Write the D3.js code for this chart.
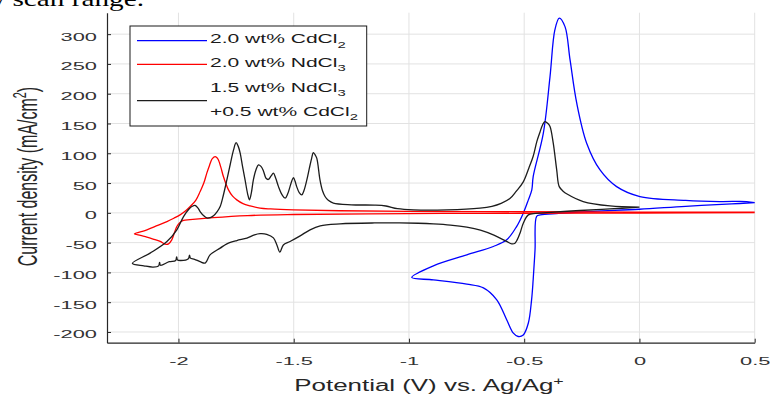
<!DOCTYPE html>
<html>
<head>
<meta charset="utf-8">
<script src="https://cdn.jsdelivr.net/npm/d3@7"></script>
<style>
  body { margin: 0; background: #fff; }
  svg text { font-family: "Liberation Sans", Arial, Helvetica, sans-serif; fill: #262626; }
</style>
</head>
<body>
<div id="chart"></div>
<script>
// 2.0 wt% CdCl2 (blue) - potential (V) and current density (mA/cm2)
const cdV = [0.5, 0.4, 0.2, 0.0, -0.2, -0.35, -0.43, -0.446, -0.453, -0.461, -0.468, -0.482, -0.504, -0.526, -0.547,
  -0.576, -0.619, -0.677, -0.749, -0.894, -0.988, -0.894, -0.749, -0.634, -0.576, -0.533, -0.504, -0.482, -0.467,
  -0.461, -0.417, -0.388, -0.367, -0.348, -0.323, -0.301, -0.272, -0.229, -0.171, -0.099, 0.002, 0.2, 0.349, 0.465, 0.5];
const cdI = [17, 15, 11, 6, 2.5, -1, -3.5, -6, -62, -112, -146, -185, -205, -207.6, -202,
  -179.5, -146, -126, -119.6, -112.4, -108.5, -88.9, -70.5, -56.5, -45.3, -23, -0.5, 21.8, 38.6,
  60.9, 133.7, 228.7, 307, 327, 312.6, 256.7, 184, 117, 72, 44, 27.4, 21, 19, 19, 17];

// 2.0 wt% NdCl3 (red)
const ndV = [0.5, 0.0, -0.5, -1.0, -1.5, -1.7, -1.85, -1.95, -1.978, -1.993, -2.007, -2.018, -2.029, -2.043, -2.058,
  -2.079, -2.11, -2.137, -2.165, -2.191, -2.165, -2.137, -2.09, -2.05, -2.02, -1.993, -1.97, -1.949, -1.925, -1.906,
  -1.89, -1.877, -1.865, -1.855, -1.848, -1.841, -1.834, -1.827, -1.815, -1.805, -1.783, -1.765, -1.747, -1.72,
  -1.689, -1.646, -1.6, -1.5, -1.3, -1.0, -0.5, 0.0, 0.5];
const ndI = [0.5, -0.3, -0.8, -1.2, -2.8, -4.5, -8, -11.5, -12.8, -16, -23, -34, -45.3, -52, -52.6,
  -48, -44, -40.8, -38, -35.2, -32, -28.5, -21, -14.6, -9, -3.4, 3, 10.6, 21, 35.7,
  50, 66.6, 80, 90, 93, 94.5, 93, 89, 75, 61, 38.6, 28, 21.8, 15.5,
  11.7, 7.9, 6.5, 5, 3.5, 2.5, 1.8, 1.2, 1.0];

// 1.5 wt% NdCl3 + 0.5 wt% CdCl2 (black)
const mixV = [0.0, -0.128, -0.258, -0.402, -0.45, -0.482, -0.504, -0.518, -0.53, -0.54, -0.554, -0.576, -0.634, -0.69,
  -0.749, -0.82, -0.894, -0.96, -1.04, -1.15, -1.299, -1.385, -1.429, -1.472, -1.516, -1.545, -1.56, -1.573, -1.588,
  -1.617, -1.646, -1.67, -1.703, -1.747, -1.79, -1.819, -1.863, -1.884, -1.906, -1.93, -1.948, -1.952, -1.957, -1.99,
  -2.004, -2.008, -2.012, -2.04, -2.078, -2.082, -2.086, -2.11, -2.15, -2.2,
  -2.123, -2.05, -2.007, -1.978, -1.955, -1.94, -1.928, -1.915, -1.906, -1.89, -1.877, -1.862, -1.848, -1.832, -1.819,
  -1.805, -1.79, -1.775, -1.761, -1.75, -1.741, -1.732, -1.722, -1.711, -1.7, -1.692, -1.684, -1.675, -1.664, -1.653,
  -1.642, -1.631, -1.62, -1.61, -1.598, -1.588, -1.578, -1.566, -1.55, -1.537, -1.526, -1.516, -1.508, -1.501, -1.494,
  -1.487, -1.476, -1.465, -1.455, -1.443, -1.432, -1.422, -1.415, -1.408, -1.4, -1.386, -1.375, -1.364, -1.35, -1.328,
  -1.25, -1.15, -1.1, -1.05, -0.98, -0.836, -0.692, -0.64, -0.6, -0.562, -0.535, -0.504, -0.48, -0.461, -0.445, -0.432,
  -0.42, -0.41, -0.397, -0.388, -0.374, -0.359, -0.348, -0.33, -0.316, -0.244, -0.128, 0.0];
const mixI = [9.6, 6.5, 3.9, 0.5, -1, -3.4, -17.3, -34, -45, -50.9, -52, -48, -37, -29,
  -24, -20.5, -18.5, -17.5, -17, -17, -18.5, -21.8, -28.5, -38.6, -48.1, -54, -66, -54, -42,
  -36, -35, -37, -42.5, -46.5, -52, -59.2, -70.5, -84.4, -82, -78, -76, -71, -77, -80,
  -79, -74, -80, -82, -88, -83, -89, -91, -89, -85,
  -67.6, -48.1, -28.5, -6.2, 6, 11, 12.5, 8, 2.2, -5, -8.5, -8, -5, 2, 10.6,
  30, 55.4, 82, 105.7, 118, 112, 100, 78, 55.4, 32, 21.8, 33, 55.4, 72, 80.5,
  78, 70, 58, 56, 62, 66.6, 58, 44, 30, 24.6, 32, 44, 54, 59.2, 53,
  44, 34, 30.2, 38, 55.4, 75, 91.8, 101.2, 98, 91.8, 55.4, 37, 27.4, 21, 16.3,
  13.5, 13, 11.5, 7, 5, 5, 7.9, 11, 16, 24, 36, 52, 75, 95, 120, 135,
  148, 153.2, 150, 145, 117, 72.2, 44, 36, 32, 19, 11.7, 9.6];

const seriesNames = [["2.0 wt% CdCl", "2"], ["2.0 wt% NdCl", "3"], ["1.5 wt% NdCl", "3"], ["+0.5 wt% CdCl", "2"]];
const seriesColors = ["#0000ff", "#ff0000", "#1c1c1c"];
const xTicks = [-2, -1.5, -1, -0.5, 0, 0.5];
const yTicks = [-200, -150, -100, -50, 0, 50, 100, 150, 200, 250, 300];

const width = 770, height = 394;
const margin = { top: 12.7, right: 15.3, bottom: 51.3, left: 107 };

const svg = d3.select("#chart").append("svg")
    .attr("width", width)
    .attr("height", height);

const x = d3.scaleLinear().domain([-2.31, 0.5]).range([margin.left, width - margin.right]);
const y = d3.scaleLinear().domain([-218, 336]).range([height - margin.bottom, margin.top]);

// clipped text from the surrounding page
svg.append("text")
    .attr("x", -16).attr("y", 6)
    .attr("textLength", 160)
    .attr("lengthAdjust", "spacingAndGlyphs")
    .style("font-family", "'Liberation Serif', 'Times New Roman', serif")
    .style("font-size", "22px")
    .style("fill", "#000")
    .text("w scan range.");

// grid
svg.append("g").selectAll("line")
  .data(xTicks)
  .join("line")
    .attr("x1", d => x(d)).attr("x2", d => x(d))
    .attr("y1", y.range()[1]).attr("y2", y.range()[0])
    .attr("stroke", "#e2e2e2");
svg.append("g").selectAll("line")
  .data(yTicks)
  .join("line")
    .attr("x1", x.range()[0]).attr("x2", x.range()[1])
    .attr("y1", d => y(d)).attr("y2", d => y(d))
    .attr("stroke", "#e2e2e2");

// axes
const yAxis = svg.append("g")
    .attr("transform", `translate(${margin.left},0)`)
    .call(d3.axisLeft(y).tickValues(yTicks).tickSize(-4).tickSizeOuter(0).tickFormat(d => String(d)));
const xAxis = svg.append("g")
    .attr("transform", `translate(0,${height - margin.bottom})`)
    .call(d3.axisBottom(x).tickValues(xTicks).tickSize(-4).tickSizeOuter(0).tickFormat(d => String(d)));

[yAxis, xAxis].forEach(a => {
  a.select(".domain").attr("stroke", "#262626").attr("stroke-width", 1.2);
  a.selectAll(".tick line").attr("stroke", "#262626");
  a.selectAll(".tick text").attr("x", null).attr("y", null).attr("dy", null)
    .style("font-size", "11.5px").style("fill", "#333");
});
yAxis.selectAll(".tick text").attr("transform", "translate(-10,6) scale(1.9,1)");
xAxis.selectAll(".tick text").attr("transform", "translate(0,22.5) scale(1.9,1)");

// curves
const line = d3.line()
    .x(d => x(d[0]))
    .y(d => y(d[1]))
    .curve(d3.curveCatmullRom.alpha(0.5));

const series = [d3.zip(cdV, cdI), d3.zip(ndV, ndI), d3.zip(mixV, mixI)];
svg.append("g").selectAll("path")
  .data(series)
  .join("path")
    .attr("d", line)
    .attr("fill", "none")
    .attr("stroke", (d, i) => seriesColors[i])
    .attr("stroke-width", 1.3)
    .attr("stroke-linejoin", "round");

// axis titles
const xt = svg.append("text")
    .attr("transform", "translate(429,391) scale(1.62,1)")
    .attr("text-anchor", "middle")
    .style("font-size", "16px");
xt.append("tspan").text("Potential (V) vs. Ag/Ag");
xt.append("tspan").attr("dy", -6).style("font-size", "11px").text("+");

const yt = svg.append("text")
    .attr("transform", "translate(36.5,176.5) scale(1.7,1) rotate(-90)")
    .attr("text-anchor", "middle")
    .style("font-size", "16px");
yt.append("tspan").text("Current density (mA/cm");
yt.append("tspan").attr("dy", -6).style("font-size", "11px").text("2");
yt.append("tspan").attr("dy", 6).text(")");

// legend
const legend = svg.append("g");
legend.append("rect")
    .attr("x", 130).attr("y", 26).attr("width", 236.7).attr("height", 100)
    .attr("fill", "#fff").attr("stroke", "#1a1a1a").attr("stroke-width", 1);

const legendLineY = [40.7, 64.3, 100.7];
legend.selectAll("line")
  .data(seriesColors)
  .join("line")
    .attr("x1", 137).attr("x2", 207)
    .attr("y1", (d, i) => legendLineY[i]).attr("y2", (d, i) => legendLineY[i])
    .attr("stroke", d => d)
    .attr("stroke-width", 1.2);

const legendTextY = [43, 66.5, 91.5, 115.5];
seriesNames.forEach((s, i) => {
  const t = legend.append("text")
      .attr("transform", `translate(210,${legendTextY[i]}) scale(1.56,1)`)
      .style("font-size", "13.5px")
      .style("fill", "#1a1a1a");
  t.append("tspan").text(s[0]);
  t.append("tspan").attr("dy", 4.5).style("font-size", "9.5px").text(s[1]);
});
</script>
</body>
</html>
